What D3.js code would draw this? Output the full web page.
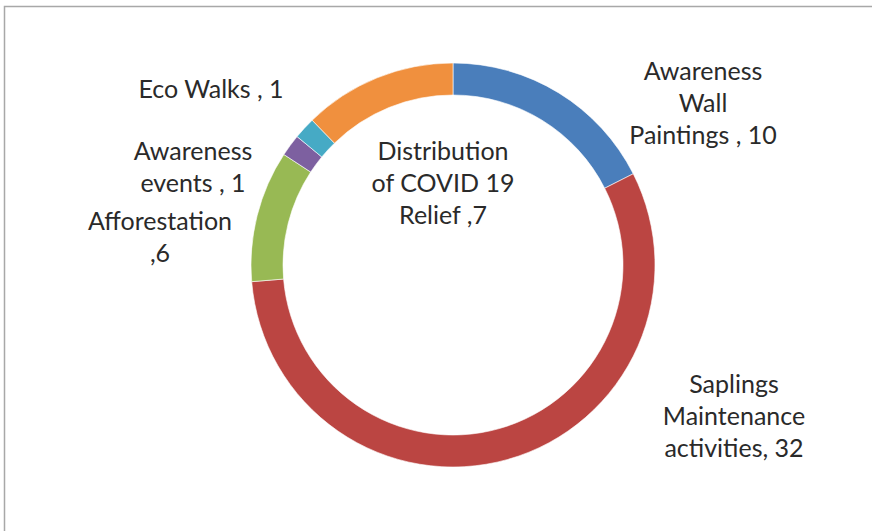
<!DOCTYPE html>
<html><head><meta charset="utf-8">
<script src="https://cdn.jsdelivr.net/npm/d3@7"></script>
<style>
html,body{margin:0;padding:0;background:#fff;}
svg{display:block;}
</style></head>
<body>
<svg id="chart" width="872" height="531"></svg>
<script>
const categories = ["Awareness Wall Paintings","Saplings Maintenance activities","Afforestation","Awareness events","Eco Walks","Distribution of COVID 19 Relief"];
const values = [10, 32, 6, 1, 1, 7];
const colors = ["#4a7ebb","#bb4542","#98b954","#7d60a0","#46aac5","#f0903e"];
// label line breaks (the value is appended to the last line)
const labelLines = [
  ["Awareness","Wall","Paintings , "],
  ["Saplings","Maintenance","activities, "],
  ["Afforestation",","],
  ["Awareness","events , "],
  ["Eco Walks , "],
  ["Distribution","of COVID 19","Relief ,"]
];
const labelAnchors = [[703,70],[734,383],[160,220],[193,150],[211,88],[443,150]];

const svg = d3.select("#chart");
// frame
svg.append("path").attr("d","M4.5,531 L4.5,6.5 L872,6.5").attr("fill","none").attr("stroke","#a8a8a8").attr("stroke-width",1.5);

const cx = 453, cy = 265, rOuter = 202, rInner = 170;
const data = categories.map((c,i)=>({cat:c, value:values[i], color:colors[i], lines:labelLines[i], anchor:labelAnchors[i]}));
const pie = d3.pie().value(d=>d.value).sort(null);
const arc = d3.arc().innerRadius(rInner).outerRadius(rOuter);
const g = svg.append("g").attr("transform",`translate(${cx},${cy})`);
g.selectAll("path").data(pie(data)).join("path")
  .attr("d",arc).attr("fill",d=>d.data.color)
  .attr("stroke","#ffffff").attr("stroke-width",0.6);

const lineH = 32;
const lg = svg.append("g").attr("font-family","Lato, 'Open Sans', sans-serif").attr("font-size",25).attr("fill","#2a2a2a").attr("text-anchor","middle");
data.forEach(d=>{
  const t = lg.append("text").attr("x",d.anchor[0]).attr("y",d.anchor[1]).attr("dominant-baseline","central");
  d.lines.forEach((ln,j)=>{
    const s = j===d.lines.length-1 ? ln + d.value : ln;
    t.append("tspan").attr("x",d.anchor[0]).attr("dy",j===0?0:lineH).text(s);
  });
});
</script>
</body></html>
